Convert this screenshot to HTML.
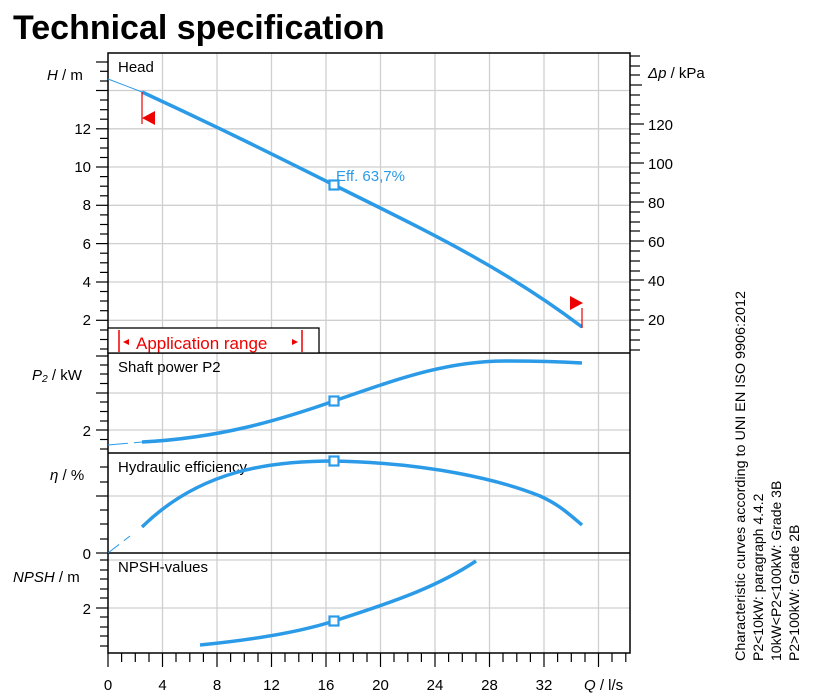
<!DOCTYPE html>
<html><head><meta charset="utf-8"><style>
body{margin:0;background:#fff}
svg{display:block;font-family:"Liberation Sans",Arial,sans-serif}
</style></head><body>
<svg width="831" height="700" viewBox="0 0 831 700" xmlns="http://www.w3.org/2000/svg">
<text x="13" y="39" font-size="34" font-weight="bold" fill="#000">Technical specification</text>
<!-- grid -->
<g stroke="#cfcfcf" stroke-width="1.3">
<line x1="162.5" y1="53" x2="162.5" y2="653"/><line x1="217" y1="53" x2="217" y2="653"/>
<line x1="271.5" y1="53" x2="271.5" y2="653"/><line x1="326" y1="53" x2="326" y2="653"/>
<line x1="380.5" y1="53" x2="380.5" y2="653"/><line x1="435" y1="53" x2="435" y2="653"/>
<line x1="489.5" y1="53" x2="489.5" y2="653"/><line x1="544" y1="53" x2="544" y2="653"/>
<line x1="598.5" y1="53" x2="598.5" y2="653"/>
<line x1="108" y1="90.5" x2="630" y2="90.5"/><line x1="108" y1="128.8" x2="630" y2="128.8"/>
<line x1="108" y1="167" x2="630" y2="167"/><line x1="108" y1="205.3" x2="630" y2="205.3"/>
<line x1="108" y1="243.6" x2="630" y2="243.6"/><line x1="108" y1="282" x2="630" y2="282"/>
<line x1="108" y1="320.3" x2="630" y2="320.3"/>
<line x1="108" y1="393" x2="630" y2="393"/><line x1="108" y1="430" x2="630" y2="430"/>
<line x1="108" y1="496" x2="630" y2="496"/>
<line x1="108" y1="560" x2="630" y2="560"/><line x1="108" y1="608" x2="630" y2="608"/>
</g>
<!-- frames -->
<g stroke="#000" stroke-width="1.5" fill="none">
<rect x="108" y="53" width="522" height="600"/>
<line x1="108" y1="353" x2="630" y2="353"/>
<line x1="108" y1="453" x2="630" y2="453"/>
<line x1="108" y1="553" x2="630" y2="553"/>
</g>
<!-- left axis ticks -->
<g stroke="#000" stroke-width="1.2">
<line x1="96" y1="62" x2="108" y2="62" /><line x1="100" y1="71.3" x2="108" y2="71.3"/><line x1="100" y1="81" x2="108" y2="81"/>
<line x1="96" y1="90.5" x2="108" y2="90.5"/><line x1="100" y1="100" x2="108" y2="100"/><line x1="100" y1="109.7" x2="108" y2="109.7"/><line x1="100" y1="119.2" x2="108" y2="119.2"/>
<line x1="96" y1="128.8" x2="108" y2="128.8"/><line x1="100" y1="138.4" x2="108" y2="138.4"/><line x1="100" y1="148" x2="108" y2="148"/><line x1="100" y1="157.5" x2="108" y2="157.5"/>
<line x1="96" y1="167" x2="108" y2="167"/><line x1="100" y1="176.6" x2="108" y2="176.6"/><line x1="100" y1="186.2" x2="108" y2="186.2"/><line x1="100" y1="195.8" x2="108" y2="195.8"/>
<line x1="96" y1="205.3" x2="108" y2="205.3"/><line x1="100" y1="214.9" x2="108" y2="214.9"/><line x1="100" y1="224.5" x2="108" y2="224.5"/><line x1="100" y1="234" x2="108" y2="234"/>
<line x1="96" y1="243.6" x2="108" y2="243.6"/><line x1="100" y1="253.2" x2="108" y2="253.2"/><line x1="100" y1="262.8" x2="108" y2="262.8"/><line x1="100" y1="272.4" x2="108" y2="272.4"/>
<line x1="96" y1="282" x2="108" y2="282"/><line x1="100" y1="291.5" x2="108" y2="291.5"/><line x1="100" y1="301" x2="108" y2="301"/><line x1="100" y1="310.7" x2="108" y2="310.7"/>
<line x1="96" y1="320.3" x2="108" y2="320.3"/><line x1="100" y1="330" x2="108" y2="330"/><line x1="100" y1="339.5" x2="108" y2="339.5"/><line x1="100" y1="349" x2="108" y2="349"/>
<line x1="96" y1="356" x2="108" y2="356"/><line x1="100" y1="365" x2="108" y2="365"/><line x1="100" y1="374" x2="108" y2="374"/><line x1="100" y1="383.5" x2="108" y2="383.5"/>
<line x1="96" y1="393" x2="108" y2="393"/><line x1="100" y1="402" x2="108" y2="402"/><line x1="100" y1="411.5" x2="108" y2="411.5"/><line x1="100" y1="421" x2="108" y2="421"/>
<line x1="96" y1="430" x2="108" y2="430"/><line x1="100" y1="439.5" x2="108" y2="439.5"/><line x1="100" y1="449" x2="108" y2="449"/>
<line x1="100" y1="467" x2="108" y2="467"/><line x1="100" y1="482" x2="108" y2="482"/>
<line x1="96" y1="496" x2="108" y2="496"/><line x1="100" y1="510" x2="108" y2="510"/><line x1="100" y1="524" x2="108" y2="524"/><line x1="100" y1="539" x2="108" y2="539"/>
<line x1="96" y1="553" x2="108" y2="553"/>
<line x1="100" y1="560" x2="108" y2="560"/><line x1="100" y1="570" x2="108" y2="570"/><line x1="100" y1="579" x2="108" y2="579"/><line x1="100" y1="589" x2="108" y2="589"/><line x1="100" y1="598" x2="108" y2="598"/>
<line x1="96" y1="608" x2="108" y2="608"/><line x1="100" y1="617" x2="108" y2="617"/><line x1="100" y1="627" x2="108" y2="627"/><line x1="100" y1="636" x2="108" y2="636"/><line x1="100" y1="646" x2="108" y2="646"/>
</g>
<!-- right axis ticks -->
<g stroke="#000" stroke-width="1.2">
<line x1="630" y1="56" x2="640" y2="56"/><line x1="630" y1="66" x2="640" y2="66"/><line x1="630" y1="75" x2="640" y2="75"/><line x1="630" y1="85" x2="642" y2="85"/>
<line x1="630" y1="95" x2="640" y2="95"/><line x1="630" y1="105" x2="640" y2="105"/><line x1="630" y1="114" x2="640" y2="114"/><line x1="630" y1="124" x2="644" y2="124"/>
<line x1="630" y1="134" x2="640" y2="134"/><line x1="630" y1="143" x2="640" y2="143"/><line x1="630" y1="153" x2="640" y2="153"/><line x1="630" y1="163" x2="644" y2="163"/>
<line x1="630" y1="173" x2="640" y2="173"/><line x1="630" y1="183" x2="640" y2="183"/><line x1="630" y1="193" x2="640" y2="193"/><line x1="630" y1="202" x2="644" y2="202"/>
<line x1="630" y1="212" x2="640" y2="212"/><line x1="630" y1="222" x2="640" y2="222"/><line x1="630" y1="231" x2="640" y2="231"/><line x1="630" y1="241" x2="644" y2="241"/>
<line x1="630" y1="251" x2="640" y2="251"/><line x1="630" y1="261" x2="640" y2="261"/><line x1="630" y1="271" x2="640" y2="271"/><line x1="630" y1="280" x2="644" y2="280"/>
<line x1="630" y1="290" x2="640" y2="290"/><line x1="630" y1="300" x2="640" y2="300"/><line x1="630" y1="310" x2="640" y2="310"/><line x1="630" y1="320" x2="644" y2="320"/>
<line x1="630" y1="330" x2="640" y2="330"/><line x1="630" y1="340" x2="640" y2="340"/><line x1="630" y1="350" x2="640" y2="350"/>
</g>
<!-- bottom ticks -->
<g stroke="#000" stroke-width="1.2">
<line x1="108" y1="653" x2="108" y2="667"/><line x1="121.6" y1="653" x2="121.6" y2="662"/><line x1="135.3" y1="653" x2="135.3" y2="662"/><line x1="149" y1="653" x2="149" y2="662"/>
<line x1="162.5" y1="653" x2="162.5" y2="667"/><line x1="176" y1="653" x2="176" y2="662"/><line x1="189.8" y1="653" x2="189.8" y2="662"/><line x1="203.4" y1="653" x2="203.4" y2="662"/>
<line x1="217" y1="653" x2="217" y2="667"/><line x1="230.6" y1="653" x2="230.6" y2="662"/><line x1="244.3" y1="653" x2="244.3" y2="662"/><line x1="258" y1="653" x2="258" y2="662"/>
<line x1="271.5" y1="653" x2="271.5" y2="667"/><line x1="285" y1="653" x2="285" y2="662"/><line x1="298.8" y1="653" x2="298.8" y2="662"/><line x1="312.4" y1="653" x2="312.4" y2="662"/>
<line x1="326" y1="653" x2="326" y2="667"/><line x1="339.6" y1="653" x2="339.6" y2="662"/><line x1="353.3" y1="653" x2="353.3" y2="662"/><line x1="367" y1="653" x2="367" y2="662"/>
<line x1="380.5" y1="653" x2="380.5" y2="667"/><line x1="394" y1="653" x2="394" y2="662"/><line x1="407.8" y1="653" x2="407.8" y2="662"/><line x1="421.4" y1="653" x2="421.4" y2="662"/>
<line x1="435" y1="653" x2="435" y2="667"/><line x1="448.6" y1="653" x2="448.6" y2="662"/><line x1="462.3" y1="653" x2="462.3" y2="662"/><line x1="476" y1="653" x2="476" y2="662"/>
<line x1="489.5" y1="653" x2="489.5" y2="667"/><line x1="503" y1="653" x2="503" y2="662"/><line x1="516.8" y1="653" x2="516.8" y2="662"/><line x1="530.4" y1="653" x2="530.4" y2="662"/>
<line x1="544" y1="653" x2="544" y2="667"/><line x1="557.6" y1="653" x2="557.6" y2="662"/><line x1="571.3" y1="653" x2="571.3" y2="662"/><line x1="585" y1="653" x2="585" y2="662"/>
<line x1="598.5" y1="653" x2="598.5" y2="667"/><line x1="612" y1="653" x2="612" y2="662"/><line x1="625.8" y1="653" x2="625.8" y2="662"/>
</g>
<!-- labels -->
<g font-size="15" fill="#000">
<text x="91" y="134" text-anchor="end">12</text><text x="91" y="172" text-anchor="end">10</text>
<text x="91" y="210" text-anchor="end">8</text><text x="91" y="249" text-anchor="end">6</text>
<text x="91" y="287" text-anchor="end">4</text><text x="91" y="325" text-anchor="end">2</text>
<text x="91" y="436" text-anchor="end">2</text><text x="91" y="559" text-anchor="end">0</text>
<text x="91" y="614" text-anchor="end">2</text>
<text x="648" y="130">120</text><text x="648" y="169">100</text><text x="648" y="208">80</text>
<text x="648" y="247">60</text><text x="648" y="286">40</text><text x="648" y="325">20</text>
<g text-anchor="middle">
<text x="108" y="690">0</text><text x="162.5" y="690">4</text><text x="217" y="690">8</text>
<text x="271.5" y="690">12</text><text x="326" y="690">16</text><text x="380.5" y="690">20</text>
<text x="435" y="690">24</text><text x="489.5" y="690">28</text><text x="544" y="690">32</text>
</g>
<text x="584" y="690"><tspan font-style="italic">Q</tspan> / l/s</text>
<text x="47" y="80"><tspan font-style="italic">H</tspan> / m</text>
<text x="648" y="78"><tspan font-style="italic">Δp</tspan> / kPa</text>
<text x="32" y="380"><tspan font-style="italic">P₂</tspan> / kW</text>
<text x="50" y="480"><tspan font-style="italic">η</tspan> / %</text>
<text x="13" y="582"><tspan font-style="italic">NPSH</tspan>  / m</text>
<text x="118" y="72">Head</text>
<text x="118" y="372">Shaft power P2</text>
<text x="118" y="472">Hydraulic efficiency</text>
<text x="118" y="572">NPSH-values</text>
</g>
<!-- application range -->
<rect x="108" y="328" width="211" height="25" fill="#fff" stroke="#000" stroke-width="1.3"/>
<g stroke="#e00" stroke-width="1.5"><line x1="119" y1="330" x2="119" y2="352"/><line x1="302" y1="330" x2="302" y2="352"/></g>
<polygon points="123,342 129,339 129,345" fill="#e00"/><polygon points="298,342 292,339 292,345" fill="#e00"/>
<text x="136" y="349" font-size="17" fill="#e00">Application range</text>
<!-- curves -->
<g fill="none" stroke="#2b9be8">
<path d="M108,79 L142,92" stroke-width="1"/>
<path d="M142,92 C220,128 280,158 334,185 C420,228 500,265 582,327" stroke-width="3.5"/>
<path d="M108,445 L142,442" stroke-width="1" stroke-dasharray="20,6"/>
<path d="M142,442 C220,438 280,420 334,401 C400,378 450,360 510,361 C545,361 565,362 582,363" stroke-width="3.5"/>
<path d="M108,553 L130,536" stroke-width="1" stroke-dasharray="14,6"/>
<path d="M142,527 C200,470 270,461 334,461 C430,463 500,480 540,496 C560,505 570,515 582,525" stroke-width="3.5"/>
<path d="M200,645 C250,640 300,632 334,621 C400,600 440,585 476,561" stroke-width="3.5"/>
</g>
<g fill="#fff" stroke="#2b9be8" stroke-width="2.2">
<rect x="329.5" y="180.5" width="9" height="9"/><rect x="329.5" y="396.5" width="9" height="9"/>
<rect x="329.5" y="456.5" width="9" height="9"/><rect x="329.5" y="616.5" width="9" height="9"/>
</g>
<text x="336" y="181" font-size="15" fill="#2b9be8">Eff.  63,7%</text>
<!-- red markers -->
<line x1="142" y1="92" x2="142" y2="124" stroke="#e00" stroke-width="1.2"/>
<polygon points="142,118 155,111 155,125" fill="#e00"/>
<line x1="582" y1="308" x2="582" y2="328" stroke="#e00" stroke-width="1.2"/>
<polygon points="570,296 583,303 570,310" fill="#e00"/>
<!-- side note -->
<g font-size="14" fill="#000">
<text transform="translate(745,661) rotate(-90)" textLength="370" lengthAdjust="spacingAndGlyphs">Characteristic curves according to UNI EN ISO 9906:2012</text>
<text transform="translate(763,661) rotate(-90)">P2&lt;10kW:  paragraph 4.4.2</text>
<text transform="translate(781,661) rotate(-90)">10kW&lt;P2&lt;100kW: Grade 3B</text>
<text transform="translate(799,661) rotate(-90)">P2&gt;100kW: Grade 2B</text>
</g>
</svg>
</body></html>
